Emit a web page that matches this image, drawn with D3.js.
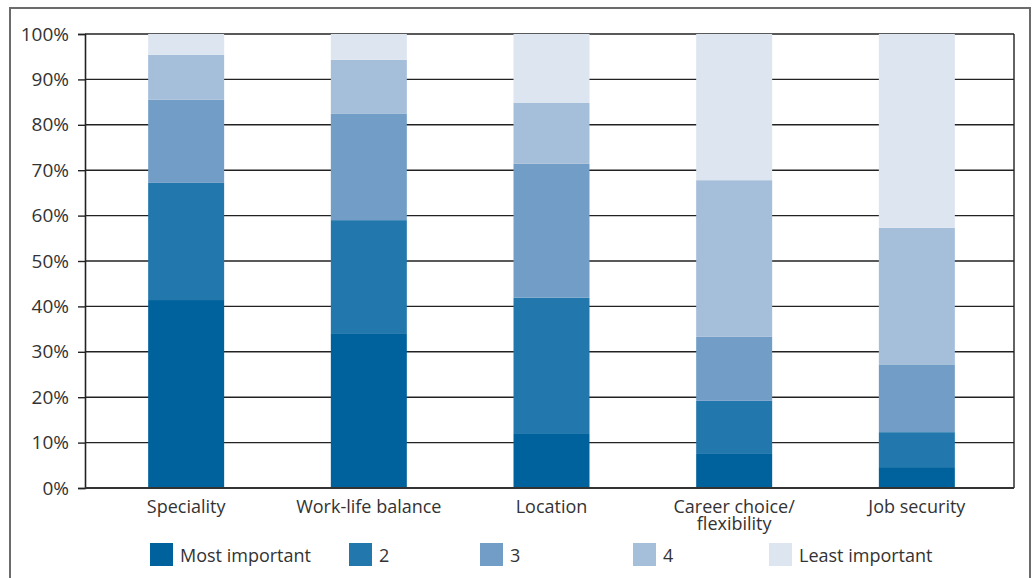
<!DOCTYPE html>
<html>
<head>
<meta charset="utf-8">
<script src="https://cdn.jsdelivr.net/npm/d3@7/dist/d3.min.js"></script>
<style>
  html, body { margin: 0; padding: 0; background: #fff; }
  svg { display: block; }
  text { font-family: "Open Sans", "Noto Sans", sans-serif; fill: #333; }
</style>
</head>
<body>
<svg id="chart" width="1032" height="578"></svg>
<script>
// Share of respondents ranking each factor (percent, stacked to 100)
const categories = ["Speciality", "Work-life balance", "Location", "Career choice/\nflexibility", "Job security"];
const seriesNames = ["Most important", "2", "3", "4", "Least important"];
const mostImportant  = [41.4, 34.1, 11.9,  7.5,  4.6];
const rank2          = [25.8, 24.9, 30.0, 11.7,  7.7];
const rank3          = [18.3, 23.4, 29.5, 14.1, 14.8];
const rank4          = [ 9.9, 11.9, 13.4, 34.5, 30.2];
const leastImportant = [ 4.6,  5.7, 15.2, 32.2, 42.7];
const yTicks = [0, 10, 20, 30, 40, 50, 60, 70, 80, 90, 100];
const colors = ["#00629c", "#2277ac", "#729dc7", "#a5bed9", "#dde5f0"];

const seriesValues = [mostImportant, rank2, rank3, rank4, leastImportant];
const rows = categories.map((c, i) => {
  const r = { cat: c };
  seriesNames.forEach((s, k) => { r[s] = seriesValues[k][i]; });
  return r;
});

const svg = d3.select("#chart");

// outer frame
svg.append("rect")
  .attr("x", 10).attr("y", 8).attr("width", 1020).attr("height", 580)
  .attr("fill", "none").attr("stroke", "#6b6b6b").attr("stroke-width", 2);

const plot = { left: 85, right: 1014, top: 34, bottom: 488 };

const x = d3.scaleBand()
  .domain(categories)
  .range([95, 1008])
  .paddingInner(0.584)
  .paddingOuter(0.291);

const y = d3.scaleLinear().domain([0, 100]).range([plot.bottom, plot.top]);

// horizontal gridlines
svg.append("g")
  .selectAll("line")
  .data(yTicks)
  .join("line")
  .attr("x1", plot.left).attr("x2", plot.right)
  .attr("y1", d => y(d)).attr("y2", d => y(d))
  .attr("stroke", "#222").attr("stroke-width", 1.4);

// stacked bars
const stack = d3.stack().keys(seriesNames)(rows);
svg.append("g")
  .selectAll("g")
  .data(stack)
  .join("g")
  .attr("fill", (d, i) => colors[i])
  .selectAll("rect")
  .data(d => d)
  .join("rect")
  .attr("x", d => x(d.data.cat))
  .attr("width", x.bandwidth())
  .attr("y", d => y(d[1]))
  .attr("height", d => y(d[0]) - y(d[1]));

// y axis
const yAxis = d3.axisLeft(y)
  .tickValues(yTicks)
  .tickFormat(d => d + "%")
  .tickSize(7)
  .tickPadding(9);
const gy = svg.append("g").attr("transform", `translate(${plot.left},0)`).call(yAxis);
gy.select(".domain").attr("stroke", "#222").attr("stroke-width", 1.6);
gy.selectAll(".tick line").attr("stroke", "#222").attr("stroke-width", 1.4);
gy.selectAll(".tick text")
  .attr("font-size", 19)
  .attr("font-family", "'Open Sans', sans-serif")
  .attr("fill", "#333");

// right frame line and baseline
svg.append("line")
  .attr("x1", plot.right).attr("x2", plot.right)
  .attr("y1", plot.top).attr("y2", plot.bottom)
  .attr("stroke", "#222").attr("stroke-width", 1.4);
svg.append("line")
  .attr("x1", plot.left).attr("x2", plot.right)
  .attr("y1", plot.bottom).attr("y2", plot.bottom)
  .attr("stroke", "#333").attr("stroke-width", 1.8);

// category labels (multi-line where the name contains a break)
const xl = svg.append("g")
  .selectAll("text")
  .data(categories)
  .join("text")
  .attr("text-anchor", "middle")
  .attr("font-size", 18)
  .attr("transform", d => `translate(${x(d) + x.bandwidth() / 2},513)`);
xl.selectAll("tspan")
  .data(d => d.split("\n"))
  .join("tspan")
  .attr("x", 0)
  .attr("dy", (d, i) => i === 0 ? 0 : 17)
  .text(d => d);

// legend
const legendX = [150, 349, 480, 633, 769];
const lg = svg.append("g")
  .selectAll("g")
  .data(seriesNames)
  .join("g")
  .attr("transform", (d, i) => `translate(${legendX[i]},543)`);
lg.append("rect")
  .attr("width", 23).attr("height", 23)
  .attr("fill", (d, i) => colors[i]);
lg.append("text")
  .attr("x", 30).attr("y", 19)
  .attr("font-size", 18)
  .text(d => d);
</script>
</body>
</html>
